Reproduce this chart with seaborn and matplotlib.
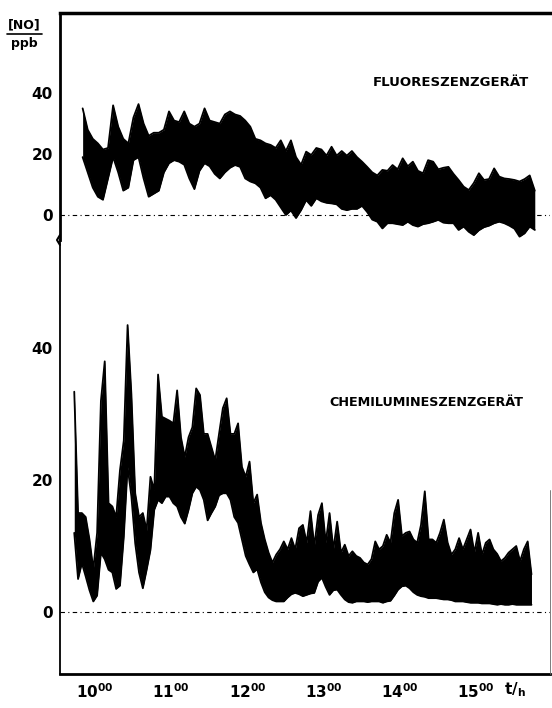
import numpy as np
import pandas as pd
import matplotlib
matplotlib.use("Agg")
import matplotlib.pyplot as plt
import seaborn as sns
from matplotlib.lines import Line2D
from matplotlib.transforms import ScaledTranslation

# ---------------- data ----------------
# upper panel: fluorescence instrument, samples every 4 min from 9.93 h
fluor_start_h = 9.93
fluor_step_min = 4
fluor_upper = [35, 28, 25, 23.5, 21.5, 22, 36, 29, 25, 23.5,
               32, 36.4, 30, 26, 27, 27, 28, 34, 31, 30.5,
               34, 30, 29, 30, 35, 31, 30.5, 30, 33, 34,
               33, 32.5, 31, 29, 25, 24.5, 23.5, 23, 22, 24.5,
               21, 24.5, 19, 16.5, 20.8, 19.7, 22, 21.5, 19.5, 22.4,
               19.5, 21, 19.5, 21, 19, 17.5, 15.8, 14, 13, 14.8,
               14.5, 16.4, 15, 18.6, 16, 17.5, 14.5, 13.7, 18, 17.5,
               15, 15.5, 15.8, 13.5, 11.5, 9.3, 8.2, 10.5, 13.7, 11.5,
               11.8, 15.3, 12.6, 12, 11.8, 11.5, 11, 11.8, 13, 8]
fluor_lower = [19, 14, 9, 6, 5, 12, 19, 14, 8, 9,
               18, 19, 12, 6, 7, 8, 14, 17, 18, 17.5,
               16.5, 12, 8.5, 14.5, 17, 16, 13.5, 12, 14, 15.5,
               16.4, 15.8, 12, 11, 10.4, 9, 5.5, 6.5, 5, 2.5,
               0, 1.5, -1, 1.6, 4.9, 3, 5.5, 4.5, 4, 3.8,
               3.5, 2, 1.6, 2, 2, 3, 1, -1.5, -2.2, -4.4,
               -2.7, -2.7, -3, -3.3, -2.2, -3.3, -3.8, -3, -2.7, -2.2,
               -1.6, -2.5, -2.7, -2.7, -4.9, -3.8, -5.5, -6.6, -5, -4,
               -3.5, -2.7, -2.2, -2.7, -3.5, -4.5, -7.1, -6, -3.8, -4.9]

# lower panel: chemiluminescence instrument, samples every 3 min from 9.82 h
chemi_start_h = 9.82
chemi_step_min = 3
chemi_upper = [33.4, 15, 15, 14.4, 11, 6.5, 12, 32, 38, 16.5,
               16, 14.4, 21.5, 26, 43.5, 33, 18, 14.4, 15, 12.4,
               20.5, 18.5, 36, 29.6, 29.3, 29, 28.6, 33.6, 26.5, 23.5,
               26.5, 28, 33.9, 32.9, 27, 27, 25, 23, 27, 30.9,
               32.4, 27, 27, 28.6, 22, 20.5, 22.8, 16.5,
               17.8, 13.5, 11, 9, 7.5, 8.7, 9.5, 10.7, 9.5, 11.2,
               9.5, 12.7, 13.2, 10.5, 15.3, 10, 14.7, 16.5, 10.5, 15,
               9.5, 13.7, 9, 10.2, 8.5, 9.2, 8.5, 8.2, 7.5, 7.2,
               8, 10.7, 9.5, 10, 11.7, 10.5, 15, 17, 11.5, 12,
               12.2, 11, 10.5, 13.2, 18.3, 11, 11, 10.5, 12, 14,
               10.5, 8.7, 9.5, 11.2, 9.5, 11, 12.5, 9, 12, 8.7,
               10.5, 11, 9.5, 8.8, 7.7, 8.2, 9, 9.5, 10, 7.7,
               9.5, 10.7, 5.7]
chemi_lower = [12, 5, 7.4, 5.4, 3.3, 1.6, 2.5, 9, 8, 6.4,
               6, 3.5, 4, 11.4, 22, 17.5, 10.4, 6, 3.6, 6.4,
               9.4, 15.5, 17, 16.5, 17.5, 17.5, 16.5, 16, 14.4, 13.4,
               15.5, 18, 19, 18.5, 17, 13.9, 15, 16, 17.7, 18,
               18, 17, 14.4, 13.5, 11, 8.5, 7.2, 6,
               6.5, 4.5, 3, 2.2, 1.8, 1.6, 1.6, 1.6, 2.2, 2.7,
               2.9, 2.7, 2.4, 2.6, 2.8, 2.9, 4.6, 5.2, 3.8, 2.6,
               3.3, 3.4, 2.6, 1.9, 1.5, 1.4, 1.6, 1.6, 1.6, 1.5,
               1.6, 1.6, 1.6, 1.4, 1.6, 1.7, 2.5, 3.4, 3.9, 4.0,
               3.6, 3.0, 2.6, 2.4, 2.3, 2.1, 2.1, 2.1, 2.0, 1.9,
               1.9, 1.8, 1.6, 1.6, 1.6, 1.5, 1.4, 1.4, 1.4, 1.3,
               1.3, 1.3, 1.2, 1.1, 1.2, 1.1, 1.1, 1.2, 1.1, 1.1,
               1.1, 1.1, 1.1]

hour_ticks = [10, 11, 12, 13, 14, 15]
hour_labels = [r'$\mathbf{10^{00}}$', r'$\mathbf{11^{00}}$', r'$\mathbf{12^{00}}$',
               r'$\mathbf{13^{00}}$', r'$\mathbf{14^{00}}$', r'$\mathbf{15^{00}}$']
y_ticks = [0, 20, 40]
y_tick_labels = ['0', '20', '40']
label_top = 'FLUORESZENZGERÄT'
label_bottom = 'CHEMILUMINESZENZGERÄT'

# ---------------- figure ----------------
sns.set_style("white")
plt.rcParams['font.family'] = ['DejaVu Sans']
plt.rcParams.update({'text.color': 'black', 'axes.labelcolor': 'black',
                     'xtick.color': 'black', 'ytick.color': 'black',
                     'axes.edgecolor': 'black'})

W, H = 552, 708
fig = plt.figure(figsize=(W / 100, H / 100), dpi=100)


def fx(px):
    return px / W


def fy(py):
    return 1 - py / H


ax1 = fig.add_axes([fx(60), fy(240), fx(550) - fx(60), fy(13) - fy(240)])
ax2 = fig.add_axes([fx(60), fy(674), fx(550) - fx(60), fy(240) - fy(674)])
for ax in (ax1, ax2):
    ax.patch.set_alpha(0)

fluor = pd.DataFrame({
    't': fluor_start_h + np.arange(len(fluor_upper)) * fluor_step_min / 60,
    'up': fluor_upper, 'lo': fluor_lower})
chemi = pd.DataFrame({
    't': chemi_start_h + np.arange(len(chemi_upper)) * chemi_step_min / 60,
    'up': chemi_upper, 'lo': chemi_lower})

for ax, df in ((ax1, fluor), (ax2, chemi)):
    ax.fill_between(df['t'], df['lo'], df['up'], color='black', lw=0)
    sns.lineplot(data=df, x='t', y='up', ax=ax, color='black', lw=1.3,
                 estimator=None, sort=False)
    sns.lineplot(data=df, x='t', y='lo', ax=ax, color='black', lw=1.3,
                 estimator=None, sort=False)
    ax.axhline(0, color='black', lw=0.8, ls=(0, (4, 3, 1, 3)), zorder=0)
    ax.set_xlim(9.633, 16.063)
    ax.set_xlabel('')
    ax.set_ylabel('')
    ax.set_yticks(y_ticks)
    ax.set_yticklabels(y_tick_labels, fontsize=11, fontweight='bold')
    ax.tick_params(axis='y', length=3, width=1.2, pad=2, direction='out',
                   colors='black')

ax1.set_ylim(-8.2, 66.3)
ax2.set_ylim(-9.4, 56.4)

ax1.set_xticks([])
ax1.spines['right'].set_visible(False)
ax1.spines['bottom'].set_visible(False)
ax1.spines['top'].set_linewidth(2.5)
ax1.spines['left'].set_linewidth(2.0)

ax2.spines['top'].set_visible(False)
ax2.spines['right'].set_visible(False)
ax2.spines['left'].set_linewidth(1.3)
ax2.spines['bottom'].set_linewidth(2.0)

ax2.set_xticks(hour_ticks)
ax2.set_xticklabels(hour_labels, fontsize=11)
ax2.tick_params(axis='x', length=4, width=1.5, direction='inout', pad=4,
                colors='black')
for lab in ax2.get_xticklabels():
    lab.set_transform(lab.get_transform() + ScaledTranslation(7 / 100, 0, fig.dpi_scale_trans))

# faint right frame line in the lower part
fig.add_artist(Line2D([fx(550), fx(550)], [fy(490), fy(674)], color='0.4', lw=0.6))

# axis break mark on the left spine
fig.add_artist(Line2D([fx(60), fx(57), fx(60)], [fy(235), fy(240), fy(245)],
                      color='black', lw=1.5))

# y unit label  [NO] / ppb
fig.text(fx(24), fy(25), '[NO]', ha='center', va='center', fontsize=9, fontweight='bold')
fig.add_artist(Line2D([fx(7), fx(42)], [fy(34), fy(34)], color='black', lw=1.2))
fig.text(fx(24), fy(43), 'ppb', ha='center', va='center', fontsize=9, fontweight='bold')

# time unit
fig.text(fx(515), fy(690), r'$\mathbf{t/_{h}}$', ha='center', va='center', fontsize=11)

# instrument labels
fig.text(fx(529), fy(83), label_top, ha='right', va='center', fontsize=9.5, fontweight='bold')
fig.text(fx(523), fy(402), label_bottom, ha='right', va='center', fontsize=9.2, fontweight='bold')

fig.savefig('out.png', dpi=100)
